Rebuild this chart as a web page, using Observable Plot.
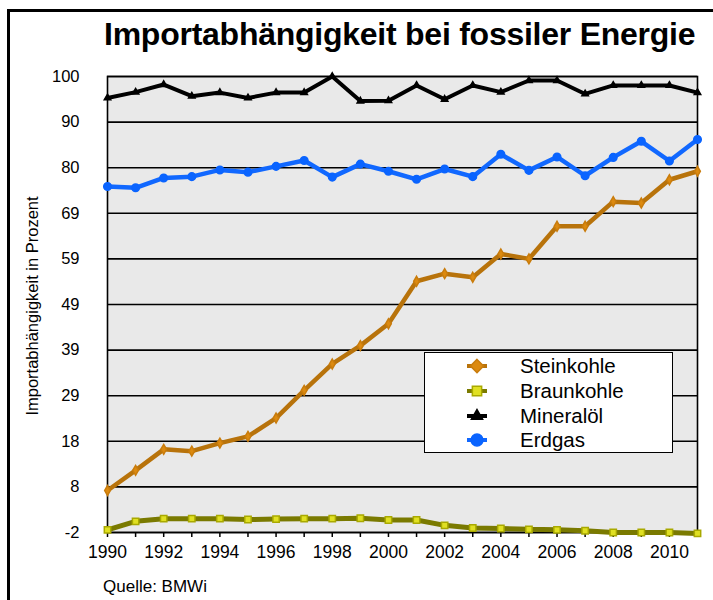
<!DOCTYPE html>
<html>
<head>
<meta charset="utf-8">
<script src="https://cdn.jsdelivr.net/npm/d3@7"></script>
<script src="https://cdn.jsdelivr.net/npm/@observablehq/plot@0.6"></script>
<style>
  html, body { margin: 0; padding: 0; background: #fff; }
  #wrap { position: relative; width: 713px; height: 600px; overflow: hidden; font-family: "Liberation Sans", Arial, sans-serif; }
  #border { position: absolute; left: 7px; top: 9px; width: 720px; height: 600px; border-left: 3px solid #000; border-top: 3px solid #000; }
  #title { position: absolute; left: 104px; top: 16px; font-weight: bold; font-size: 32px; letter-spacing: -0.25px; color: #000; white-space: nowrap; line-height: 37px; }
  #chart { position: absolute; left: 0; top: 0; }
  #ylabel { position: absolute; left: 32px; top: 306px; transform: translate(-50%, -50%) rotate(-90deg); font-size: 16.5px; white-space: nowrap; color: #000; }
  #source { position: absolute; left: 103px; top: 577px; font-size: 17px; color: #000; line-height: 20px; }
  #legend { position: absolute; left: 424px; top: 352px; width: 247px; height: 99px; border: 1.5px solid #000; background: #fff; }
  .row { position: absolute; left: 0; height: 24px; width: 247px; }
  .row svg { position: absolute; left: 40px; top: 0; }
  .row span { position: absolute; left: 95px; top: 0; font-size: 20.5px; white-space: nowrap; line-height: 24px; }
</style>
</head>
<body>
<div id="wrap">
  <div id="border"></div>
  <div id="chart"></div>
  <div id="title">Importabhängigkeit bei fossiler Energie</div>
  <div id="ylabel">Importabhängigkeit in Prozent</div>
  <div id="source">Quelle: BMWi</div>
  <div id="legend"></div>
</div>
<script>
const years = [1990,1991,1992,1993,1994,1995,1996,1997,1998,1999,2000,2001,2002,2003,2004,2005,2006,2007,2008,2009,2010,2011];
const steinkohle = [7.4,11.9,16.6,16.2,18.0,19.5,23.6,29.8,35.7,39.8,44.7,54.2,55.9,55.1,60.3,59.2,66.5,66.5,72.0,71.7,76.9,78.8];
const braunkohle = [-1.4,0.5,1.1,1.1,1.1,0.9,1.0,1.1,1.1,1.2,0.8,0.8,-0.4,-1.0,-1.1,-1.3,-1.4,-1.6,-2.0,-2.0,-2.0,-2.2];
const mineraloel = [95.2,96.5,98.2,95.6,96.4,95.2,96.4,96.4,100,94.5,94.6,98.0,94.9,98.0,96.5,99.1,99.1,96.1,98.0,98.0,98.0,96.4];
const erdgas = [75.4,75.1,77.3,77.6,79.1,78.6,79.9,81.2,77.5,80.4,78.8,77.0,79.3,77.6,82.6,79.0,82.0,77.8,81.9,85.5,81.1,85.9];
const yTickValues = [-2, 8.2, 18.4, 28.6, 38.8, 49, 59.2, 69.4, 79.6, 89.8, 100];
const yTickLabels = ["-2","8","18","29","39","49","59","69","80","90","100"];
const xTickYears = [1990,1992,1994,1996,1998,2000,2002,2004,2006,2008,2010];

const seriesNames = ["Steinkohle","Braunkohle","Mineralöl","Erdgas"];
const seriesValues = [steinkohle, braunkohle, mineraloel, erdgas];
const styles = {
  "Steinkohle": {line: "#b8730b", fill: "#dc8a10", stroke: "#c97c0c", symbol: "diamond", r: 3, sw: 4.5, legendSym: d3.symbolDiamond2, legendSize: 110},
  "Braunkohle": {line: "#7a7a00", fill: "#e0e022", stroke: "#a9a900", symbol: "square", r: 3.6, sw: 5, legendSym: d3.symbolSquare2, legendSize: 110},
  "Mineralöl": {line: "#000000", fill: "#000000", stroke: "#000000", symbol: "triangle", r: 2.4, sw: 4, legendSym: d3.symbolTriangle2, legendSize: 90},
  "Erdgas": {line: "#1168ff", fill: "#0a64ff", stroke: "#0a64ff", symbol: "circle", r: 3.8, sw: 4.5, legendSym: d3.symbolCircle, legendSize: 110}
};

const data = [];
seriesNames.forEach((name, i) => {
  years.forEach((yr, j) => data.push({series: name, year: yr, value: seriesValues[i][j]}));
});

const marks = [
  Plot.frame({fill: "#e9e9e9", stroke: null}),
  Plot.gridY(yTickValues, {stroke: "#000", strokeOpacity: 1, strokeWidth: 1.6}),
  Plot.frame({stroke: "#000", strokeWidth: 1.6, fill: null}),
  Plot.axisY({ticks: yTickValues, tickFormat: d => yTickLabels[yTickValues.indexOf(d)], tickSize: 0, tickPadding: 28, fontSize: 16.5, label: null}),
  Plot.axisX({ticks: years, tickFormat: d => xTickYears.includes(d) ? String(d) : "", tickSize: 5, tickPadding: 8, fontSize: 17.5, label: null, strokeWidth: 1.5})
];
["Braunkohle","Steinkohle","Erdgas","Mineralöl"].forEach(name => {
  const s = styles[name];
  const d = data.filter(e => e.series === name);
  marks.push(Plot.line(d, {x: "year", y: "value", stroke: s.line, strokeWidth: s.sw, strokeLinejoin: "miter", curve: "linear"}));
  marks.push(Plot.dot(d, {x: "year", y: "value", symbol: () => s.symbol, r: s.r, fill: s.fill, stroke: s.stroke, strokeWidth: 1.5}));
});

const chart = Plot.plot({
  width: 713,
  height: 600,
  marginLeft: 107,
  marginRight: 16,
  marginTop: 76,
  marginBottom: 68,
  style: {fontFamily: "'Liberation Sans', Arial, sans-serif", color: "#000", background: "transparent"},
  x: {domain: [1990, 2011], type: "linear"},
  y: {domain: [-2, 100]},
  symbol: {type: "identity"},
  marks
});
document.getElementById("chart").appendChild(chart);

const legend = document.getElementById("legend");
const rowTops = [1, 26, 51, 75];
seriesNames.forEach((name, i) => {
  const s = styles[name];
  const row = document.createElement("div");
  row.className = "row";
  row.style.top = rowTops[i] + "px";
  row.innerHTML = `<svg width="24" height="24" viewBox="-12 -12 24 24">
      <line x1="-10" x2="10" y1="0" y2="0" stroke="${s.line}" stroke-width="4"/>
      <path d="${d3.symbol(s.legendSym, s.legendSize)()}" fill="${s.fill}" stroke="${s.stroke}" stroke-width="1.5"/>
    </svg><span>${name}</span>`;
  legend.appendChild(row);
});
</script>
</body>
</html>
